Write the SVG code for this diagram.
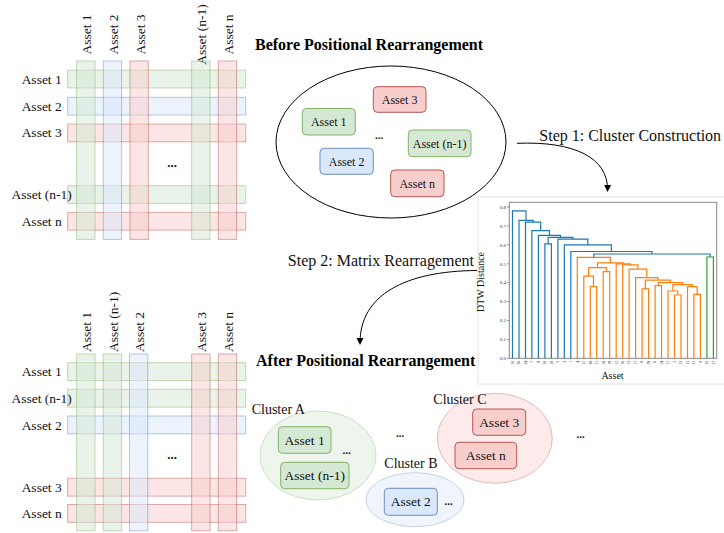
<svg xmlns="http://www.w3.org/2000/svg" width="724" height="533" viewBox="0 0 724 533">
<style>
text{font-family:"Liberation Serif","Times New Roman",serif;fill:#111}
.lbl{font-size:13.5px}
.bx{font-size:12px}
.bx2{font-size:13.5px}
.ttl{font-size:16px;font-weight:bold;fill:#000}
.step{font-size:16px}
.g{fill:#d5e8d4;stroke:#82b366}
.b{fill:#dae8fc;stroke:#6c8ebf}
.r{fill:#f8cecc;stroke:#b85450}
.bar{opacity:0.5;stroke-width:1}
.dots{font-size:13px;font-weight:bold}
.cl{opacity:0.4}
.dl{fill:none;stroke-width:1.2}
.c0{stroke:#1f77b4}.c1{stroke:#ff7f0e}.c2{stroke:#2ca02c}
.tk{font-size:5px;fill:#333}
.xt{font-size:3.6px;fill:#666}
</style>
<defs>
<marker id="ah" markerWidth="8" markerHeight="8" refX="5" refY="4" orient="auto" markerUnits="userSpaceOnUse">
<path d="M0,0.5 L7,4 L0,7.5 Z" fill="#000"/>
</marker>
</defs>

<!-- Top matrix -->
<g id="matrix-before">
<rect class="bar g" x="67.7" y="70.2" width="178" height="17.7"/>
<rect class="bar b" x="67.7" y="97.3" width="178" height="17.7"/>
<rect class="bar r" x="67.7" y="124.1" width="178" height="17.7"/>
<rect class="bar g" x="67.7" y="185.7" width="178" height="17.7"/>
<rect class="bar r" x="67.7" y="212.4" width="178" height="17.7"/>
<rect class="bar g" x="76.7" y="61" width="18.3" height="178.4"/>
<rect class="bar b" x="103.3" y="61" width="18.3" height="178.4"/>
<rect class="bar r" x="130" y="61" width="18.3" height="178.4"/>
<rect class="bar g" x="191.7" y="61" width="18.3" height="178.4"/>
<rect class="bar r" x="218.3" y="61" width="18.3" height="178.4"/>
<text class="lbl" x="41.7" y="83.5" text-anchor="middle">Asset 1</text>
<text class="lbl" x="41.7" y="110.7" text-anchor="middle">Asset 2</text>
<text class="lbl" x="41.7" y="137.4" text-anchor="middle">Asset 3</text>
<text class="lbl" x="41.7" y="199" text-anchor="middle">Asset (n-1)</text>
<text class="lbl" x="41.7" y="225.7" text-anchor="middle">Asset n</text>
<text class="lbl" transform="translate(91.3,34.5) rotate(-90)" text-anchor="middle">Asset 1</text>
<text class="lbl" transform="translate(117.9,34.5) rotate(-90)" text-anchor="middle">Asset 2</text>
<text class="lbl" transform="translate(144.5,34.5) rotate(-90)" text-anchor="middle">Asset 3</text>
<text class="lbl" transform="translate(206.2,34.5) rotate(-90)" text-anchor="middle">Asset (n-1)</text>
<text class="lbl" transform="translate(232.9,34.5) rotate(-90)" text-anchor="middle">Asset n</text>
<text class="dots" x="172" y="167" text-anchor="middle">...</text>
</g>

<!-- Bottom matrix -->
<g id="matrix-after">
<rect class="bar g" x="67.7" y="362.7" width="178" height="17.8"/>
<rect class="bar g" x="67.7" y="389.3" width="178" height="17.8"/>
<rect class="bar b" x="67.7" y="416" width="178" height="17.8"/>
<rect class="bar r" x="67.7" y="478.3" width="178" height="17.8"/>
<rect class="bar r" x="67.7" y="504.5" width="178" height="17.8"/>
<rect class="bar g" x="76.7" y="354" width="18.3" height="176.7"/>
<rect class="bar g" x="103.3" y="354" width="18.3" height="176.7"/>
<rect class="bar b" x="129.5" y="354" width="18.3" height="176.7"/>
<rect class="bar r" x="191.7" y="354" width="18.3" height="176.7"/>
<rect class="bar r" x="218.3" y="354" width="18.3" height="176.7"/>
<text class="lbl" x="41.7" y="376.2" text-anchor="middle">Asset 1</text>
<text class="lbl" x="41.7" y="402.8" text-anchor="middle">Asset (n-1)</text>
<text class="lbl" x="41.7" y="429.5" text-anchor="middle">Asset 2</text>
<text class="lbl" x="41.7" y="491.7" text-anchor="middle">Asset 3</text>
<text class="lbl" x="41.7" y="517.9" text-anchor="middle">Asset n</text>
<text class="lbl" transform="translate(91.3,352) rotate(-90)">Asset 1</text>
<text class="lbl" transform="translate(117.9,352) rotate(-90)">Asset (n-1)</text>
<text class="lbl" transform="translate(144,352) rotate(-90)">Asset 2</text>
<text class="lbl" transform="translate(206.2,352) rotate(-90)">Asset 3</text>
<text class="lbl" transform="translate(232.9,352) rotate(-90)">Asset n</text>
<text class="dots" x="172" y="459" text-anchor="middle">...</text>
</g>

<!-- Titles -->
<g id="titles">
<text class="ttl" x="255" y="49.5">Before Positional Rearrangement</text>
<text class="ttl" x="256" y="366">After Positional Rearrangement</text>
</g>

<!-- Before set -->
<g id="before-set">
<ellipse cx="391" cy="142" rx="115" ry="76" fill="#fff" stroke="#000" stroke-width="1"/>
</g>
<g id="b-asset3"><rect class="r" x="373.3" y="86.7" width="52.7" height="25.6" rx="4"/><text class="bx" x="399.6" y="103.7" text-anchor="middle">Asset 3</text></g>
<g id="b-asset1"><rect class="g" x="302.3" y="108.5" width="53" height="26.5" rx="4"/><text class="bx" x="328.8" y="125.9" text-anchor="middle">Asset 1</text></g>
<g id="b-assetn1"><rect class="g" x="408.3" y="130" width="62.7" height="26.7" rx="4"/><text class="bx" x="439.6" y="147.5" text-anchor="middle">Asset (n-1)</text></g>
<g id="b-asset2"><rect class="b" x="320" y="148.3" width="53.3" height="26" rx="4"/><text class="bx" x="346.6" y="165.5" text-anchor="middle">Asset 2</text></g>
<g id="b-assetn"><rect class="r" x="390.7" y="170" width="53.3" height="26.7" rx="4"/><text class="bx" x="417.3" y="187.5" text-anchor="middle">Asset n</text></g>
<text class="dots" x="379" y="139" text-anchor="middle" style="font-size:11px">...</text>

<!-- Dendrogram panel -->
<g id="dendrogram">
<rect x="478" y="197" width="250" height="187" fill="#fff" stroke="#e2e2e2"/>
<rect x="509.3" y="202.3" width="207.4" height="156" fill="none" stroke="#888" stroke-width="1"/>
<g stroke="#555" stroke-width="0.6">
<line x1="507" y1="358.3" x2="509.3" y2="358.3"/><line x1="507" y1="339.4" x2="509.3" y2="339.4"/>
<line x1="507" y1="320.5" x2="509.3" y2="320.5"/><line x1="507" y1="301.6" x2="509.3" y2="301.6"/>
<line x1="507" y1="282.7" x2="509.3" y2="282.7"/><line x1="507" y1="263.8" x2="509.3" y2="263.8"/>
<line x1="507" y1="244.9" x2="509.3" y2="244.9"/><line x1="507" y1="226" x2="509.3" y2="226"/>
<line x1="507" y1="207.1" x2="509.3" y2="207.1"/>
</g>
<g text-anchor="end">
<text class="tk" x="506" y="360">0.0</text><text class="tk" x="506" y="341.1">0.1</text>
<text class="tk" x="506" y="322.2">0.2</text><text class="tk" x="506" y="303.3">0.3</text>
<text class="tk" x="506" y="284.4">0.4</text><text class="tk" x="506" y="265.5">0.5</text>
<text class="tk" x="506" y="246.6">0.6</text><text class="tk" x="506" y="227.7">0.7</text>
<text class="tk" x="506" y="208.8">0.8</text>
</g>
<text transform="translate(484,282) rotate(-90)" text-anchor="middle" style="font-size:10px">DTW Distance</text>
<text x="612.5" y="379" text-anchor="middle" style="font-size:10px">Asset</text>
<g class="xt" text-anchor="end">
<text transform="translate(513.8,361) rotate(-90)">18</text><text transform="translate(520.3,361) rotate(-90)">26</text>
<text transform="translate(526.8,361) rotate(-90)">24</text><text transform="translate(533.2,361) rotate(-90)">7</text>
<text transform="translate(539.7,361) rotate(-90)">9</text><text transform="translate(546.2,361) rotate(-90)">28</text>
<text transform="translate(552.7,361) rotate(-90)">20</text><text transform="translate(559.2,361) rotate(-90)">5</text>
<text transform="translate(565.6,361) rotate(-90)">3</text><text transform="translate(572.1,361) rotate(-90)">1</text>
<text transform="translate(578.6,361) rotate(-90)">4</text><text transform="translate(585.1,361) rotate(-90)">22</text>
<text transform="translate(591.6,361) rotate(-90)">30</text><text transform="translate(598,361) rotate(-90)">21</text>
<text transform="translate(604.5,361) rotate(-90)">10</text><text transform="translate(611,361) rotate(-90)">19</text>
<text transform="translate(617.5,361) rotate(-90)">12</text><text transform="translate(624,361) rotate(-90)">16</text>
<text transform="translate(630.4,361) rotate(-90)">13</text><text transform="translate(636.9,361) rotate(-90)">17</text>
<text transform="translate(643.4,361) rotate(-90)">8</text><text transform="translate(649.9,361) rotate(-90)">29</text>
<text transform="translate(656.4,361) rotate(-90)">6</text><text transform="translate(662.8,361) rotate(-90)">14</text>
<text transform="translate(669.3,361) rotate(-90)">11</text><text transform="translate(675.8,361) rotate(-90)">2</text>
<text transform="translate(682.3,361) rotate(-90)">23</text><text transform="translate(688.8,361) rotate(-90)">15</text>
<text transform="translate(695.2,361) rotate(-90)">31</text><text transform="translate(701.7,361) rotate(-90)">0</text>
<text transform="translate(708.2,361) rotate(-90)">25</text><text transform="translate(714.7,361) rotate(-90)">27</text>
</g>
<g class="dl c1">
<path d="M590.3,358.3V286.5H596.7V358.3"/>
<path d="M583.8,358.3V276.1H593.5V286.5"/>
<path d="M603.2,358.3V271.7H609.7V358.3"/>
<path d="M588.65,276.1V267.6H606.45V271.7"/>
<path d="M642.1,358.3V288.9H648.6V358.3"/>
<path d="M655.1,358.3V285.7H661.5V358.3"/>
<path d="M674.5,358.3V295H681V358.3"/>
<path d="M668,358.3V291H677.75V295"/>
<path d="M693.9,358.3V294.4H700.4V358.3"/>
<path d="M687.5,358.3V286.7H697.15V294.4"/>
<path d="M672.9,291V284.6H692.3V286.7"/>
<path d="M658.3,285.7V282.7H682.6V284.6"/>
<path d="M645.35,288.9V280.05H670.45V282.7"/>
<path d="M635.6,358.3V277.6H657.9V280.05"/>
<path d="M629.1,358.3V269.1H646.75V277.6"/>
<path d="M622.7,358.3V264.9H637.9V269.1"/>
<path d="M616.2,358.3V263.8H630.3V264.9"/>
<path d="M597.55,267.6V262.9H623.25V263.8"/>
<path d="M577.3,358.3V257.4H610.4V262.9"/>
</g>
<path class="dl c2" d="M706.9,358.3V257H713.4V358.3"/>
<g class="dl c0">
<path d="M593.85,257.4V254H710.15V257"/>
<path d="M570.8,358.3V251.5H652V254"/>
<path d="M564.3,358.3V244.9H611.4V251.5"/>
<path d="M557.9,358.3V239.2H587.85V244.9"/>
<path d="M544.9,358.3V243.95H551.4V358.3"/>
<path d="M548.15,243.95V237.3H572.9V239.2"/>
<path d="M538.4,358.3V235.45H560.5V237.3"/>
<path d="M531.9,358.3V230.7H549.45V235.45"/>
<path d="M525.5,358.3V222.2H540.7V230.7"/>
<path d="M519,358.3V220.3H533.1V222.2"/>
<path d="M512.5,358.3V210.9H526V220.3"/>
</g>
</g>

<!-- Connectors -->
<g id="connectors" fill="none" stroke="#000" stroke-width="1">
<path d="M517,143.3 C575,141 608,158 607.6,190" marker-end="url(#ah)"/>
<path d="M477,270.5 C405,271 360,295 360,343" marker-end="url(#ah)"/>
</g>
<g id="step-labels">
<text class="step" x="539.3" y="140.7">Step 1: Cluster Construction</text>
<text class="step" x="474" y="266" text-anchor="end">Step 2: Matrix Rearragement</text>
</g>

<!-- After clusters -->
<g id="cluster-a">
<ellipse class="g cl" cx="318" cy="455.5" rx="58" ry="44.5"/>
<text class="bx2" x="251.7" y="413.5" style="font-size:14px">Cluster A</text>
</g>
<g id="a-asset1"><rect class="g" x="278.3" y="426.7" width="52.7" height="26.6" rx="4"/><text class="bx2" x="304.6" y="444.5" text-anchor="middle">Asset 1</text></g>
<g id="a-assetn1"><rect class="g" x="280.7" y="462.3" width="68.3" height="26.4" rx="4"/><text class="bx2" x="314.8" y="480" text-anchor="middle">Asset (n-1)</text></g>
<text class="dots" x="346.7" y="454" text-anchor="middle" style="font-size:11px">...</text>
<text class="dots" x="400" y="437" text-anchor="middle" style="font-size:11px">...</text>
<g id="cluster-b">
<ellipse class="b cl" cx="415" cy="499.7" rx="49" ry="27"/>
<text class="bx2" x="384.3" y="467.5" style="font-size:14px">Cluster B</text>
</g>
<g id="c-asset2"><rect class="b" x="384.3" y="488.3" width="53" height="27" rx="4"/><text class="bx2" x="410.8" y="506.3" text-anchor="middle">Asset 2</text></g>
<text class="dots" x="448.5" y="505" text-anchor="middle" style="font-size:11px">...</text>
<g id="cluster-c">
<ellipse class="r cl" cx="494.8" cy="438.3" rx="57.5" ry="45"/>
<text class="bx2" x="433.3" y="403.5" style="font-size:14px">Cluster C</text>
</g>
<g id="c-asset3"><rect class="r" x="472.7" y="409" width="53" height="26.3" rx="4"/><text class="bx2" x="499.2" y="426.7" text-anchor="middle">Asset 3</text></g>
<g id="c-assetn"><rect class="r" x="455" y="442.3" width="61.7" height="26.4" rx="4"/><text class="bx2" x="485.8" y="460" text-anchor="middle">Asset n</text></g>
<text class="dots" x="580.7" y="438" text-anchor="middle" style="font-size:11px">...</text>
</svg>
